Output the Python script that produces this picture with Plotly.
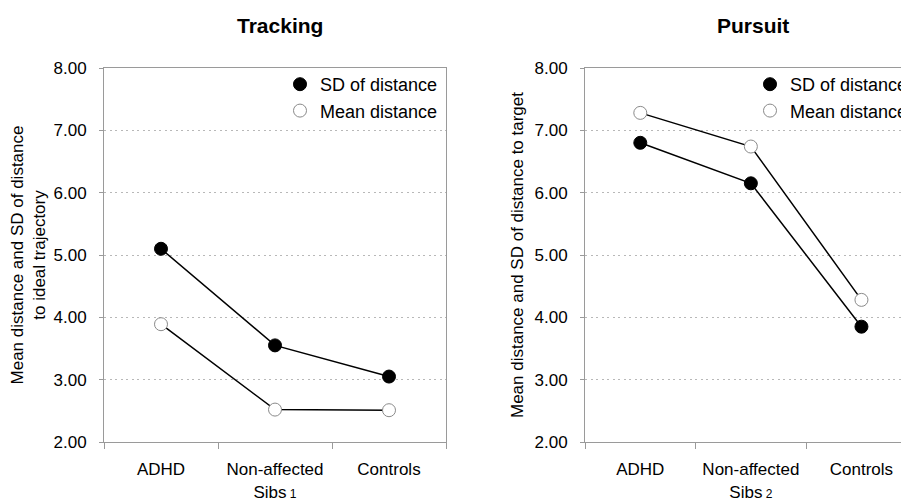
import plotly.graph_objects as go

categories = ["ADHD", "Non-affected<br>Sibs<span style='font-size:12px'> 1</span>", "Controls"]
categories_p = ["ADHD", "Non-affected<br>Sibs<span style='font-size:12px'> 2</span>", "Controls"]
cat_keys = ["ADHD", "Non-affected Sibs", "Controls"]

tracking_sd = [5.10, 3.55, 3.05]
tracking_mean = [3.89, 2.52, 2.51]
pursuit_sd = [6.80, 6.15, 3.85]
pursuit_mean = [7.28, 6.74, 4.28]

yticks = [2, 3, 4, 5, 6, 7, 8]
yticklabels = ["2.00", "3.00", "4.00", "5.00", "6.00", "7.00", "8.00"]

FONT = "Arial, Liberation Sans, sans-serif"
GRAY = "#9a9a9a"

fig = go.Figure()

def add_lines(y, xa, ya):
    fig.add_trace(go.Scatter(
        x=cat_keys, y=y, mode="lines", line=dict(color="black", width=1.5),
        xaxis=xa, yaxis=ya, showlegend=False, hoverinfo="skip"))

def add_markers(y, name, filled, xa, ya, legend):
    fig.add_trace(go.Scatter(
        x=cat_keys, y=y, name=name, mode="markers",
        marker=dict(size=13, symbol="circle",
                    color="black" if filled else "white",
                    line=dict(color="black" if filled else "#8a8a8a", width=1)),
        xaxis=xa, yaxis=ya, legend=legend, showlegend=True))

add_lines(tracking_sd, "x", "y")
add_lines(tracking_mean, "x", "y")
add_lines(pursuit_sd, "x2", "y2")
add_lines(pursuit_mean, "x2", "y2")
add_markers(tracking_sd, "SD of distance", True, "x", "y", "legend")
add_markers(tracking_mean, "Mean distance", False, "x", "y", "legend")
add_markers(pursuit_sd, "SD of distance", True, "x2", "y2", "legend2")
add_markers(pursuit_mean, "Mean distance", False, "x2", "y2", "legend2")

# page body has an 8px margin; figure is sized to fill the rest of the window
OX, OY = 8, 8
W, H = 909 - OX, 503 - OY

def px(x):
    return (x - OX) / W

def py(y):
    return 1 - (y - OY) / H

ydom = [py(442), py(68)]

xcommon = dict(type="category", tickson="boundaries", ticks="outside", ticklen=6,
               tickcolor=GRAY, showline=True, linecolor=GRAY, linewidth=1,
               showgrid=False, tickfont=dict(size=17, color="black", family=FONT),
               zeroline=False, automargin=False, ticklabelstandoff=12)
ycommon = dict(range=[2, 8], tickvals=yticks, ticktext=yticklabels, showline=True,
               linecolor=GRAY, linewidth=1, showgrid=True, gridcolor="#b8b8b8",
               griddash="2px,3.5px", gridwidth=1, ticks="outside", ticklen=4,
               tickcolor=GRAY, ticklabelstandoff=9,
               tickfont=dict(size=17, color="black", family=FONT), zeroline=False,
               automargin=False)

fig.update_layout(
    width=W, height=H, margin=dict(l=0, r=0, t=0, b=0, autoexpand=False),
    paper_bgcolor="white", plot_bgcolor="white",
    font=dict(family=FONT, color="black", size=17),
    xaxis=dict(domain=[px(104), px(446)], range=[-0.5, 2.5], mirror=True,
               tickvals=cat_keys, ticktext=categories, anchor="y", **xcommon),
    yaxis=dict(domain=ydom, anchor="x", mirror=True,
               title=dict(text="Mean distance and SD of distance<br>to ideal trajectory",
                          font=dict(size=17), standoff=3), **ycommon),
    xaxis2=dict(domain=[px(585), 1.0], range=[-0.5, 2.43], mirror=True,
                tickvals=cat_keys, ticktext=categories_p, anchor="y2", **xcommon),
    yaxis2=dict(domain=ydom, anchor="x2",
                title=dict(text="Mean distance and SD of distance to target",
                           font=dict(size=17), standoff=6), **ycommon),
    legend=dict(x=px(280), y=py(66), xanchor="left", yanchor="top",
                bgcolor="rgba(0,0,0,0)", font=dict(size=18), itemclick=False,
                tracegroupgap=0),
    legend2=dict(x=px(750), y=py(66), xanchor="left", yanchor="top",
                 bgcolor="rgba(0,0,0,0)", font=dict(size=18), itemclick=False,
                 tracegroupgap=0),
    annotations=[
        dict(text="<b>Tracking</b>", x=px(280), y=py(25), xref="paper", yref="paper",
             showarrow=False, font=dict(size=21, family=FONT), xanchor="center", yanchor="middle"),
        dict(text="<b>Pursuit</b>", x=px(753), y=py(25), xref="paper", yref="paper",
             showarrow=False, font=dict(size=21, family=FONT), xanchor="center", yanchor="middle"),
    ],
)

fig.write_html("out.html")
